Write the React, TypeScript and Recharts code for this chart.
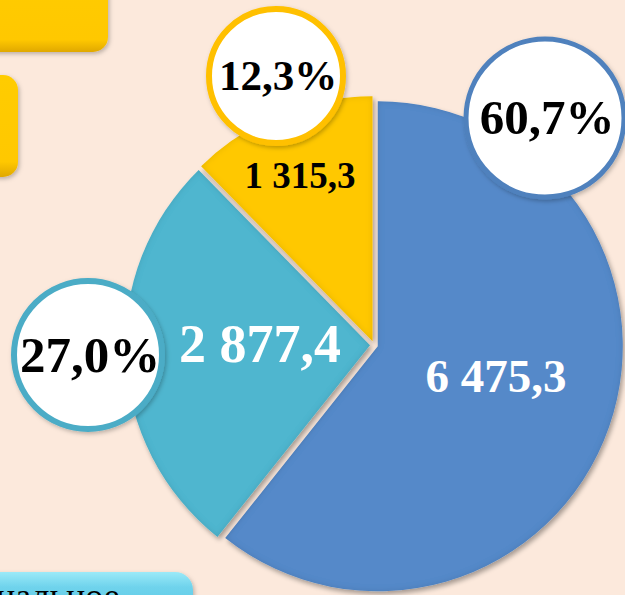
import React from 'react';
import { PieChart, Pie, Cell } from 'recharts';

const categories = ['Сегмент 1', 'Сегмент 2', 'Сегмент 3'];
const values = [6475.3, 2877.4, 1315.3];
const colors = ['#5589C9', '#50B6CF', '#FFC800'];
const borderColors = ['#4F81BD', '#4BACC6', '#FFC000'];
const valueTextColors = ['#FFFFFF', '#FFFFFF', '#000000'];

const data = categories.map((name, i) => ({ name, value: values[i] }));
const total = values.reduce((a, b) => a + b, 0);

const W = 625;
const H = 595;
const CX = 374;
const CY = 345;
const R = 245;
const EXPLODE = 4;
const START = 90;
const END = -270;

// layout for labels (relative to pie center)
const valueLabelPos = [
  { dx: 122, dy: 47, size: 47 },
  { dx: -114, dy: 17, size: 54 },
  { dx: -74, dy: -157, size: 37 },
];
const pctCircles = [
  { x: 545, y: 118, r: 79, size: 49, sw: 5 },
  { x: 88, y: 355, r: 74, size: 51, sw: 6 },
  { x: 276, y: 76, r: 67, size: 43, sw: 6 },
];

const fmtValue = (v: number) => {
  const [int, dec] = v.toFixed(1).split('.');
  return int.replace(/\B(?=(\d{3})+(?!\d))/g, ' ') + ',' + dec;
};
const fmtPct = (v: number) => ((v / total) * 100).toFixed(1).replace('.', ',') + '%';

const midAngles = (() => {
  let acc = START;
  return values.map((v) => {
    const span = (v / total) * (START - END);
    const mid = acc - span / 2;
    acc -= span;
    return mid;
  });
})();

const FONT = '"Liberation Serif", "DejaVu Serif", serif';

export default function App() {
  return (
    <div
      style={{
        position: 'fixed',
        left: 0,
        top: 0,
        width: W,
        height: H,
        background: '#FCE9DC',
        overflow: 'hidden',
      }}
    >
      <svg width={0} height={0} style={{ position: 'absolute' }}>
        <defs>
          <filter id="shadow" x="-20%" y="-20%" width="140%" height="140%">
            <feGaussianBlur in="SourceAlpha" stdDeviation="2.5" result="blur" />
            <feOffset dx="2" dy="3" in="blur" result="off" />
            <feComponentTransfer in="off" result="offA">
              <feFuncA type="linear" slope="0.35" />
            </feComponentTransfer>
            <feGaussianBlur in="SourceAlpha" stdDeviation="3" result="ib" />
            <feComposite in="SourceAlpha" in2="ib" operator="arithmetic" k2="1" k3="-1" result="edge" />
            <feFlood floodColor="#000000" floodOpacity="0.22" result="ec" />
            <feComposite in="ec" in2="edge" operator="in" result="edgeShade" />
            <feMerge>
              <feMergeNode in="offA" />
              <feMergeNode in="SourceGraphic" />
              <feMergeNode in="edgeShade" />
            </feMerge>
          </filter>
          <filter id="cshadow" x="-20%" y="-20%" width="140%" height="140%">
            <feDropShadow dx="1.5" dy="2" stdDeviation="2" floodColor="#000" floodOpacity="0.25" />
          </filter>
          <linearGradient id="yellowRect" x1="0" y1="0" x2="0" y2="1">
            <stop offset="0" stopColor="#FFCC00" />
            <stop offset="0.85" stopColor="#FFC800" />
            <stop offset="1" stopColor="#E0A800" />
          </linearGradient>
          <linearGradient id="cyanRect" x1="0" y1="0" x2="0" y2="1">
            <stop offset="0" stopColor="#9BEAF8" />
            <stop offset="0.25" stopColor="#6FD3EC" />
            <stop offset="1" stopColor="#55C3E0" />
          </linearGradient>
        </defs>
      </svg>

      <svg width={W} height={H} style={{ position: 'absolute', left: 0, top: 0 }}>
        <rect x={-30} y={-30} width={138} height={82} rx={15} fill="url(#yellowRect)" filter="url(#cshadow)" />
        <rect x={-40} y={75} width={58} height={102} rx={15} fill="url(#yellowRect)" filter="url(#cshadow)" />
        <rect x={-30} y={572} width={223} height={60} rx={18} fill="url(#cyanRect)" filter="url(#cshadow)" />
        <text x={-4} y={608} fontFamily={FONT} fontSize={36} fill="#000">нальное</text>
      </svg>

      <div style={{ position: 'absolute', left: 0, top: 0 }}>
        <PieChart width={W} height={H} margin={{ top: 0, right: 0, bottom: 0, left: 0 }}>
          {data.map((_, k) => {
            const a = (midAngles[k] * Math.PI) / 180;
            const cx = CX + EXPLODE * Math.cos(a);
            const cy = CY - EXPLODE * Math.sin(a);
            return (
              <Pie
                key={k}
                data={data}
                dataKey="value"
                nameKey="name"
                cx={cx}
                cy={cy}
                innerRadius={0}
                outerRadius={R}
                startAngle={START}
                endAngle={END}
                stroke="none"
                isAnimationActive={false}
                labelLine={false}
                label={(p: any) => {
                  if (p.index !== k) return null;
                  const pos = valueLabelPos[k];
                  return (
                    <text
                      x={CX + pos.dx}
                      y={CY + pos.dy}
                      textAnchor="middle"
                      fontFamily={FONT}
                      fontWeight="bold"
                      fontSize={pos.size}
                      fill={valueTextColors[k]}
                    >
                      {fmtValue(values[k])}
                    </text>
                  );
                }}
              >
                {data.map((__, i) => (
                  <Cell
                    key={i}
                    fill={i === k ? colors[i] : 'transparent'}
                    filter={i === k ? 'url(#shadow)' : undefined}
                  />
                ))}
              </Pie>
            );
          })}
        </PieChart>
      </div>

      <svg width={W} height={H} style={{ position: 'absolute', left: 0, top: 0 }}>
        {pctCircles.map((c, i) => (
          <g key={i}>
            <circle cx={c.x} cy={c.y} r={c.r} fill="#FFFFFF" stroke={borderColors[i]} strokeWidth={c.sw} filter="url(#cshadow)" />
            <text
              x={c.x + 2}
              y={c.y + c.size * 0.33}
              textAnchor="middle"
              fontFamily={FONT}
              fontWeight="bold"
              fontSize={c.size}
              fill="#000"
            >
              {fmtPct(values[i])}
            </text>
          </g>
        ))}
      </svg>
    </div>
  );
}
